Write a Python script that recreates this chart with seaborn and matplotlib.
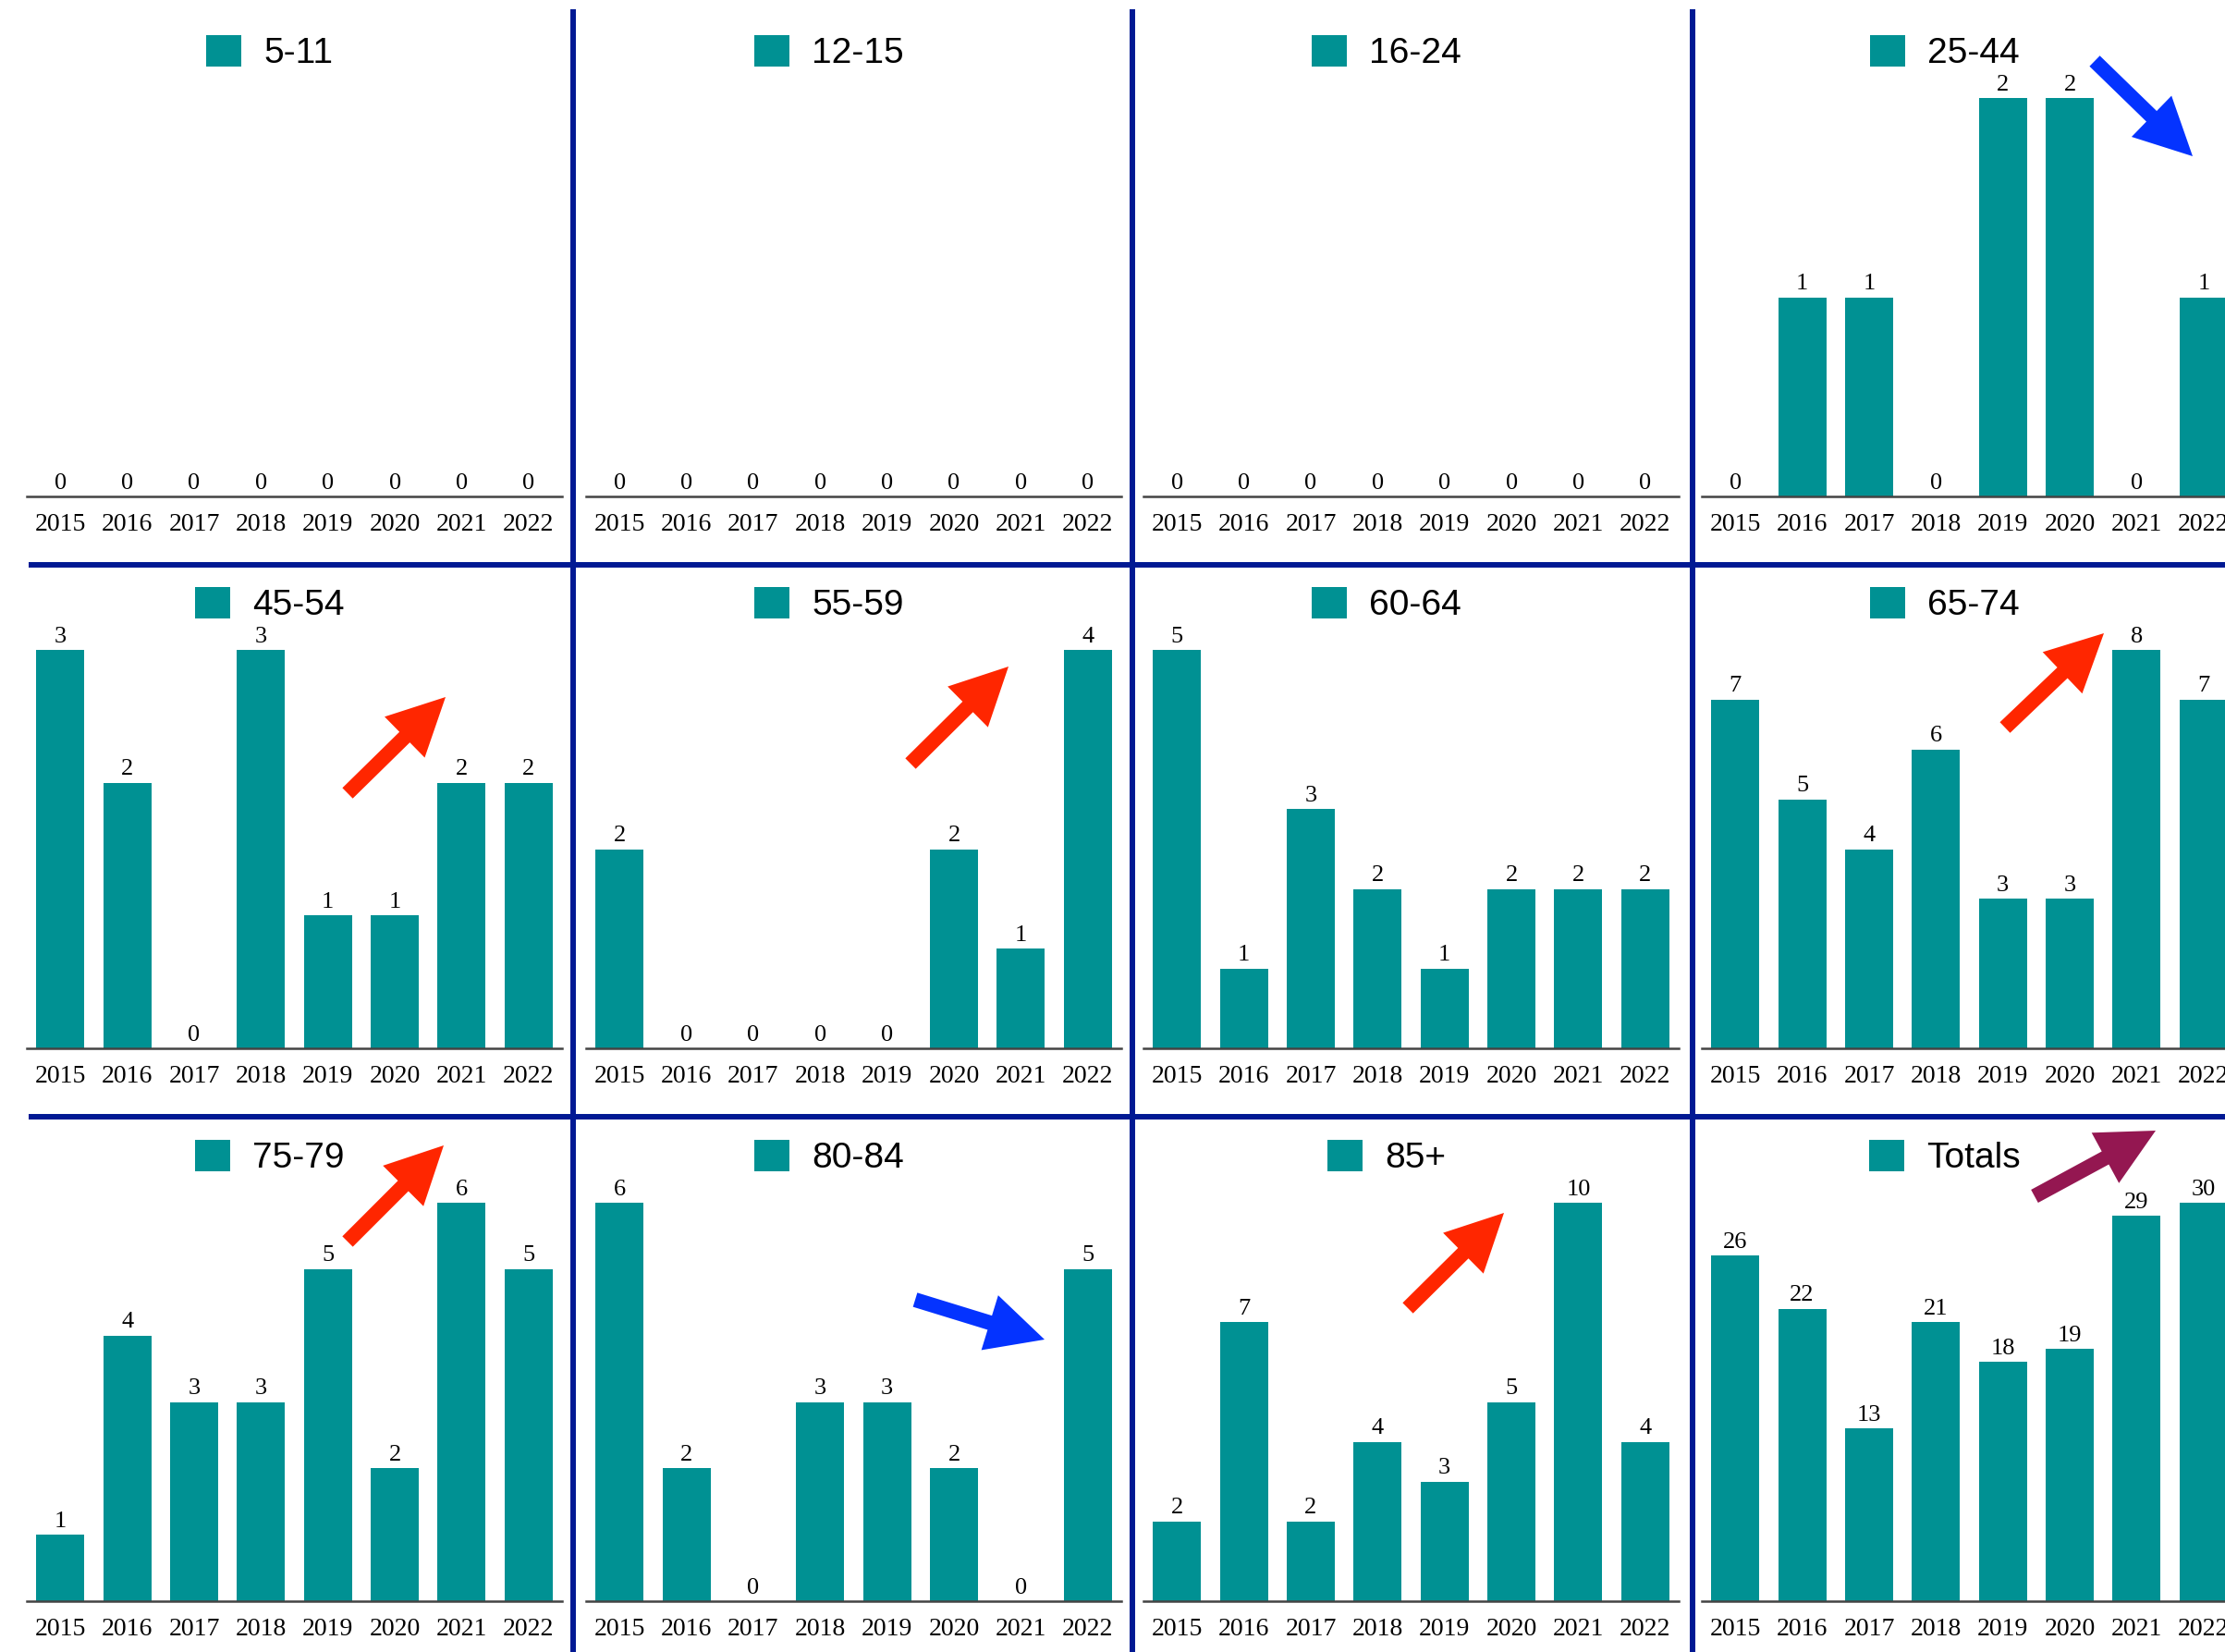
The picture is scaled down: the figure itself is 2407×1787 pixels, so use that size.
import matplotlib
matplotlib.use("Agg")
import matplotlib.pyplot as plt
from matplotlib.patches import FancyArrow
import pandas as pd
import seaborn as sns

# ---- data: counts per age band, 2015-2022 ----
years = ["2015", "2016", "2017", "2018", "2019", "2020", "2021", "2022"]

age_5_11 = [0, 0, 0, 0, 0, 0, 0, 0]
age_12_15 = [0, 0, 0, 0, 0, 0, 0, 0]
age_16_24 = [0, 0, 0, 0, 0, 0, 0, 0]
age_25_44 = [0, 1, 1, 0, 2, 2, 0, 1]
age_45_54 = [3, 2, 0, 3, 1, 1, 2, 2]
age_55_59 = [2, 0, 0, 0, 0, 2, 1, 4]
age_60_64 = [5, 1, 3, 2, 1, 2, 2, 2]
age_65_74 = [7, 5, 4, 6, 3, 3, 8, 7]
age_75_79 = [1, 4, 3, 3, 5, 2, 6, 5]
age_80_84 = [6, 2, 0, 3, 3, 2, 0, 5]
age_85_plus = [2, 7, 2, 4, 3, 5, 10, 4]
totals = [26, 22, 13, 21, 18, 19, 29, 30]

panel_labels = ["5-11", "12-15", "16-24", "25-44",
                "45-54", "55-59", "60-64", "65-74",
                "75-79", "80-84", "85+", "Totals"]
panel_values = [age_5_11, age_12_15, age_16_24, age_25_44,
                age_45_54, age_55_59, age_60_64, age_65_74,
                age_75_79, age_80_84, age_85_plus, totals]

# ---- styling ----
TEAL = "#009193"
MIDNIGHT = "#011993"
RED = "#FF2600"
BLUE = "#0433FF"
MAROON = "#941751"
AXIS_GREY = "#444444"

W, H, DPI = 2407, 1787, 100

sns.set_theme(style="white")
plt.rcParams["font.family"] = ["Liberation Serif", "DejaVu Serif"]
plt.rcParams["text.color"] = "black"

fig = plt.figure(figsize=(W / DPI, H / DPI), dpi=DPI)
fig.patch.set_facecolor("white")

# panel grid geometry (pixels)
COL_X = [29, 634, 1237, 1841]
ROW_BASE = [537, 1134, 1732]
AX_W = 579
AX_H = 520
MAX_BAR_PX = 431

for i, (label, vals) in enumerate(zip(panel_labels, panel_values)):
    r, c = divmod(i, 4)
    x0, base = COL_X[c], ROW_BASE[r]
    ax = fig.add_axes([x0 / W, (H - base) / H, AX_W / W, AX_H / H])
    ax.set_facecolor("none")

    df = pd.DataFrame({"year": years, "count": vals, "group": label})
    sns.barplot(data=df, x="year", y="count", hue="group",
                palette=[TEAL], saturation=1, width=0.72,
                linewidth=0, errorbar=None, ax=ax)

    top = max(vals)
    ax.set_ylim(0, top * AX_H / MAX_BAR_PX if top > 0 else 1)
    ax.set_xlim(-0.5, 7.5)

    ax.bar_label(ax.containers[0], labels=[str(v) for v in vals],
                 padding=2.5, fontsize=19, family="Liberation Serif",
                 color="black")

    ax.set_xlabel("")
    ax.set_ylabel("")
    ax.set_yticks([])
    ax.tick_params(axis="x", length=0, pad=13, labelsize=20,
                   labelcolor="black")
    for side in ("top", "right", "left"):
        ax.spines[side].set_visible(False)
    ax.spines["bottom"].set_color(AXIS_GREY)
    ax.spines["bottom"].set_linewidth(1.8)

    sns.move_legend(ax, "center", bbox_to_anchor=(0.454, 480 / AX_H),
                    frameon=False, title=None,
                    prop={"family": "Liberation Sans", "size": 28},
                    labelcolor="black",
                    handlelength=0.97, handleheight=0.97,
                    handletextpad=0.62, borderpad=0, borderaxespad=0)

# ---- overlay: panel dividers and trend arrows ----
ov = fig.add_axes([0, 0, 1, 1], zorder=10)
ov.set_xlim(0, W)
ov.set_ylim(H, 0)
ov.axis("off")

for x in (620, 1225, 1831):
    ov.plot([x, x], [10, H], color=MIDNIGHT, lw=4.3, solid_capstyle="butt")
for y in (611, 1207.5):
    ov.plot([31, W], [y, y], color=MIDNIGHT, lw=4.3, solid_capstyle="butt")

arrows = [
    (2266, 66, 2372, 169, BLUE),
    (376, 858, 482, 754, RED),
    (985, 826, 1091, 721, RED),
    (2169, 787, 2276, 685, RED),
    (376, 1343, 480, 1239, RED),
    (990, 1406, 1130, 1449, BLUE),
    (1523, 1415, 1627, 1312, RED),
    (2201, 1294, 2332, 1223, MAROON),
]
for xa, ya, xb, yb, col in arrows:
    ov.add_patch(FancyArrow(xa, ya, xb - xa, yb - ya, width=16,
                            head_width=62, head_length=62,
                            length_includes_head=True, color=col, lw=0))

fig.savefig("out.png", dpi=DPI, facecolor="white")
